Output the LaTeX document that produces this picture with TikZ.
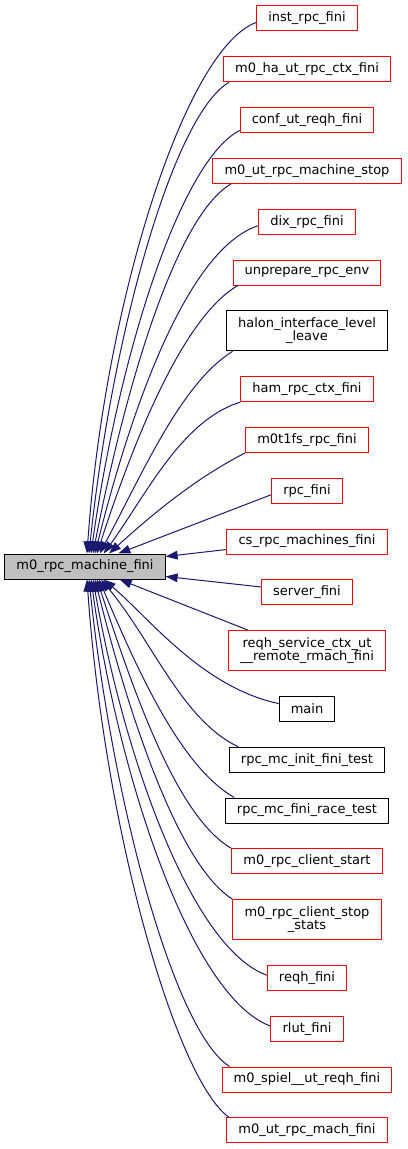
\documentclass[tikz,border=0pt]{standalone}
\usepackage{fontspec}
\setmainfont{DejaVu Sans}
\usetikzlibrary{arrows.meta, positioning}
\definecolor{edgeblue}{RGB}{25,25,112}
\definecolor{curgray}{RGB}{191,191,191}

\begin{document}
\begin{tikzpicture}[
  x=0.75pt, y=-0.75pt,
  font=\fontsize{9.75}{10}\selectfont,
  node distance=18.6pt,
  fn/.style={draw=red,fill=white,line width=0.75pt,inner xsep=8.7pt,inner ysep=3pt,
             minimum height=18.75pt,align=center},
  fnb/.style={fn,draw=black},
  cur/.style={fn,draw=black,fill=curgray},
  twol/.style={minimum height=30pt},
  arr/.style={-{Triangle[length=9pt,width=6.5pt]},line width=0.75pt,color=edgeblue}
]
  \useasboundingbox (0,0) rectangle (407,1149);
  \node[cur] (mfini) at (85,566.5) {m0\_rpc\_machine\_fini};
  \node[fn] (inst) at (307,18.5) {inst\_rpc\_fini};
  \node[fn,below=of inst] (hactx) {m0\_ha\_ut\_rpc\_ctx\_fini};
  \node[fn,below=of hactx] (confreqh) {conf\_ut\_reqh\_fini};
  \node[fn,below=of confreqh] (mstop) {m0\_ut\_rpc\_machine\_stop};
  \node[fn,below=of mstop] (dixfini) {dix\_rpc\_fini};
  \node[fn,below=of dixfini] (unprep) {unprepare\_rpc\_env};
  \node[fnb,twol,below=of unprep] (halon) {halon\_interface\_level\\\_leave};
  \node[fn,below=of halon] (hamctx) {ham\_rpc\_ctx\_fini};
  \node[fn,below=of hamctx] (tfsfini) {m0t1fs\_rpc\_fini};
  \node[fn,below=of tfsfini] (rpcfini) {rpc\_fini};
  \node[fn,below=of rpcfini] (csfini) {cs\_rpc\_machines\_fini};
  \node[fn,below=of csfini] (srvfini) {server\_fini};
  \node[fn,twol,below=of srvfini] (rsctx) {reqh\_service\_ctx\_ut\\\_\_remote\_rmach\_fini};
  \node[fnb,below=of rsctx] (mainfn) {main};
  \node[fnb,below=of mainfn] (mcinit) {rpc\_mc\_init\_fini\_test};
  \node[fnb,below=of mcinit] (mcrace) {rpc\_mc\_fini\_race\_test};
  \node[fn,below=of mcrace] (clstart) {m0\_rpc\_client\_start};
  \node[fn,twol,below=of clstart] (clstop) {m0\_rpc\_client\_stop\\\_stats};
  \node[fn,below=of clstop] (reqhfini) {reqh\_fini};
  \node[fn,below=of reqhfini] (rlut) {rlut\_fini};
  \node[fn,below=of rlut] (spiel) {m0\_spiel\_\_ut\_reqh\_fini};
  \node[fn,below=of spiel] (machfini) {m0\_ut\_rpc\_mach\_fini};

  \draw[arr] ([yshift=-3pt]inst.west) to[out=200,in=86,out distance=57pt,in distance=187pt] ([xshift=1.5pt]mfini.north);
  \draw[arr] ([xshift=4.5pt]hactx.south west) to[out=210,in=84,out distance=48pt,in distance=166pt] ([xshift=3pt]mfini.north);
  \draw[arr] ([yshift=2pt]confreqh.south west) to[out=207,in=82,out distance=50pt,in distance=150pt] ([xshift=4.5pt]mfini.north);
  \draw[arr] ([xshift=14pt]mstop.south west) to[out=210,in=79,out distance=47pt,in distance=131pt] ([xshift=6pt]mfini.north);
  \draw[arr] ([yshift=-3pt]dixfini.west) to[out=198,in=76,out distance=55pt,in distance=116pt] ([xshift=7.5pt]mfini.north);
  \draw[arr] ([xshift=4pt]unprep.south west) to[out=210,in=72,out distance=46pt,in distance=95pt] ([xshift=9pt]mfini.north);
  \draw[arr] ([xshift=5pt]halon.south west) to[out=212,in=62,out distance=45pt,in distance=72pt] ([xshift=11pt]mfini.north);
  \draw[arr] (hamctx.south west) to[out=197,in=54,out distance=46pt,in distance=54pt] ([xshift=14pt]mfini.north);
  \draw[arr] (tfsfini.south west) to[out=207,in=42,out distance=46pt,in distance=36pt] ([xshift=18pt]mfini.north);
  \draw[arr] ([yshift=-3pt]rpcfini.west) -- ([xshift=25pt]mfini.north);
  \draw[arr] ([yshift=-6pt]csfini.west) -- ([yshift=7.5pt]mfini.east);
  \draw[arr] ([yshift=4pt]srvfini.west) -- ([yshift=-7.5pt]mfini.east);
  \draw[arr] ([xshift=15pt]rsctx.north west) -- ([xshift=26pt]mfini.south);
  \draw[arr] ([yshift=4pt]mainfn.west) to[out=168,in=320,out distance=59pt,in distance=44pt] ([xshift=14pt]mfini.south);
  \draw[arr] ([xshift=7pt]mcinit.north west) to[out=155,in=310,out distance=46pt,in distance=59pt] ([xshift=12pt]mfini.south);
  \draw[arr] ([xshift=7pt]mcrace.north west) to[out=150,in=293,out distance=46pt,in distance=77pt] ([xshift=10.5pt]mfini.south);
  \draw[arr] (clstart.north west) to[out=150,in=288,out distance=46pt,in distance=95pt] ([xshift=9pt]mfini.south);
  \draw[arr] (clstop.north west) to[out=148,in=284,out distance=46pt,in distance=113pt] ([xshift=7.5pt]mfini.south);
  \draw[arr] ([yshift=2pt]reqhfini.west) to[out=160,in=280,out distance=59pt,in distance=140pt] ([xshift=6pt]mfini.south);
  \draw[arr] ([yshift=2pt]rlut.west) to[out=160,in=278,out distance=61pt,in distance=158pt] ([xshift=4.5pt]mfini.south);
  \draw[arr] ([xshift=6pt]spiel.north west) to[out=148,in=276,out distance=48pt,in distance=172pt] ([xshift=3pt]mfini.south);
  \draw[arr] ([xshift=2pt]machfini.north west) to[out=145,in=274,out distance=48pt,in distance=190pt] ([xshift=1.5pt]mfini.south);
\end{tikzpicture}
\end{document}
